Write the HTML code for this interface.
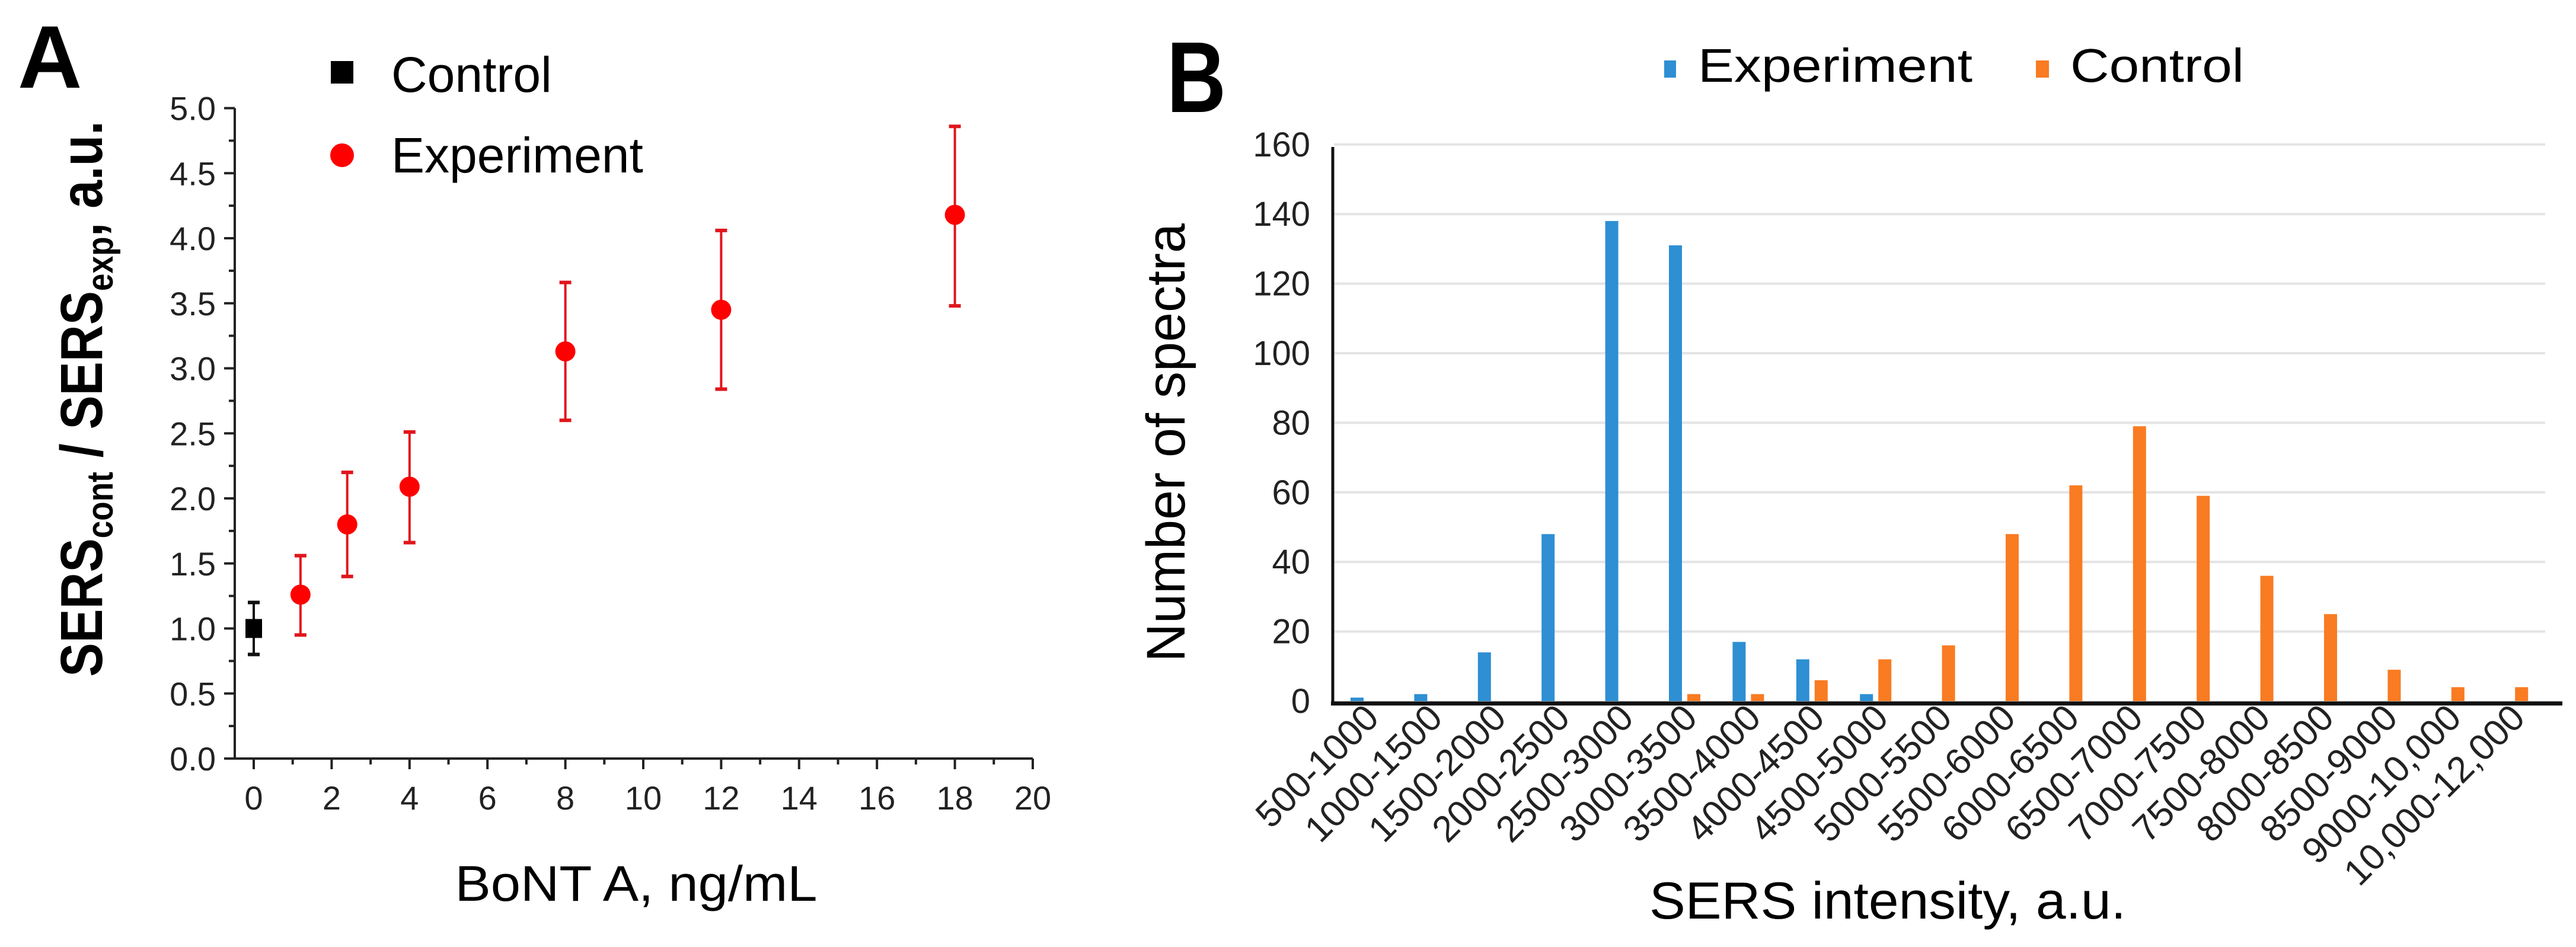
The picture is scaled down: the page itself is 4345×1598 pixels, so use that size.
<!DOCTYPE html>
<html><head><meta charset="utf-8"><style>html,body{margin:0;padding:0;background:#fff}svg{display:block}text{font-family:"Liberation Sans",sans-serif}</style></head>
<body>
<svg id="fig" width="4345" height="1598" viewBox="0 0 4345 1598" xmlns="http://www.w3.org/2000/svg">
<g id="pa">
<text x="30" y="148" font-size="150" font-weight="bold">A</text>
<rect x="558" y="103" width="38" height="38" fill="#000"/>
<text x="660" y="155" font-size="84">Control</text>
<circle cx="577" cy="262" r="20" fill="#f00"/>
<text x="660" y="291" font-size="84">Experiment</text>
<text transform="translate(172,673) rotate(-90)" text-anchor="middle" font-size="100" font-weight="bold" textLength="938" lengthAdjust="spacingAndGlyphs">SERS<tspan font-size="62" dy="18">cont</tspan><tspan dy="-18"> / SERS</tspan><tspan font-size="62" dy="18">exp</tspan><tspan dy="-18">, a.u.</tspan></text>
<text x="1073" y="1520" text-anchor="middle" font-size="84" textLength="611" lengthAdjust="spacingAndGlyphs">BoNT A, ng/mL</text>
</g>
<g id="pb">
<text x="1968" y="189" font-size="170" font-weight="bold" textLength="100" lengthAdjust="spacingAndGlyphs">B</text>
<rect x="2807" y="102" width="20" height="29" fill="#2e8fd3"/>
<text x="2864" y="138" font-size="80" textLength="463" lengthAdjust="spacingAndGlyphs">Experiment</text>
<rect x="3434" y="102" width="22" height="29" fill="#f97b22"/>
<text x="3492" y="138" font-size="80" textLength="293" lengthAdjust="spacingAndGlyphs">Control</text>
<text transform="translate(1998,747) rotate(-90)" text-anchor="middle" font-size="92" textLength="740" lengthAdjust="spacingAndGlyphs">Number of spectra</text>
<text x="3184" y="1550" text-anchor="middle" font-size="88" textLength="804" lengthAdjust="spacingAndGlyphs">SERS intensity, a.u.</text>
</g>
</svg>
<script>
// ---- Panel A data ----
const aCtrlX = [0];
const aCtrlY = [1.0];
const aCtrlLo = [0.8];
const aCtrlHi = [1.2];
const aExpX = [1.2, 2.4, 4, 8, 12, 18];
const aExpY = [1.26, 1.80, 2.09, 3.13, 3.45, 4.18];
const aExpLo = [0.95, 1.40, 1.66, 2.60, 2.84, 3.48];
const aExpHi = [1.56, 2.20, 2.51, 3.66, 4.06, 4.86];
const aYTicks = ["0.0","0.5","1.0","1.5","2.0","2.5","3.0","3.5","4.0","4.5","5.0"];
const aXTicks = ["0","2","4","6","8","10","12","14","16","18","20"];
// ---- Panel B data ----
const bCats = ["500-1000","1000-1500","1500-2000","2000-2500","2500-3000","3000-3500","3500-4000","4000-4500","4500-5000","5000-5500","5500-6000","6000-6500","6500-7000","7000-7500","7500-8000","8000-8500","8500-9000","9000-10,000","10,000-12,000"];
const bExp = [1,2,14,48,138,131,17,12,2,0,0,0,0,0,0,0,0,0,0];
const bCtrl = [0,0,0,0,0,2,2,6,12,16,48,62,79,59,36,25,9,4,4];
const bYTicks = ["0","20","40","60","80","100","120","140","160"];

const NS = "http://www.w3.org/2000/svg";
function mk(parent, tag, attrs){const e=document.createElementNS(NS,tag);for(const k in attrs)e.setAttribute(k,attrs[k]);parent.appendChild(e);return e;}

// Panel A
const pa = document.getElementById('pa');
const ax = v => 428 + v*65.7;
const ay = v => 1280 - v*219.5;
let e;
e = mk(pa,'line',{x1:396,y1:ay(0),x2:1742,y2:ay(0),stroke:'#222','stroke-width':4});


e = mk(pa,'line',{x1:396,y1:ay(0)+2,x2:396,y2:ay(5),stroke:'#222','stroke-width':4});


for(let i=0;i<aYTicks.length;i++){
  const v = parseFloat(aYTicks[i]);
  mk(pa,'line',{x1:378,y1:ay(v),x2:396,y2:ay(v),stroke:'#222','stroke-width':4});
  if(i<aYTicks.length-1) mk(pa,'line',{x1:386,y1:ay(v+0.25),x2:396,y2:ay(v+0.25),stroke:'#222','stroke-width':4});
  e = mk(pa,'text',{x:364,y:ay(v)+20,'text-anchor':'end','font-size':56,fill:'#222'});
  e.textContent = aYTicks[i];
  
  
}
for(let i=0;i<aXTicks.length;i++){
  const v = parseFloat(aXTicks[i]);
  mk(pa,'line',{x1:ax(v),y1:ay(0),x2:ax(v),y2:ay(0)+18,stroke:'#222','stroke-width':4});
  if(i<aXTicks.length-1) mk(pa,'line',{x1:ax(v+1),y1:ay(0),x2:ax(v+1),y2:ay(0)+10,stroke:'#222','stroke-width':4});
  e = mk(pa,'text',{x:ax(v),y:1366,'text-anchor':'middle','font-size':56,fill:'#222'});
  e.textContent = aXTicks[i];
  
  
}
function errbar(x,lo,hi,col,nm){
  const g = mk(pa,'g',{stroke:col,'stroke-width':4});
  
  
  mk(g,'line',{x1:ax(x),y1:ay(lo),x2:ax(x),y2:ay(hi)});
  mk(g,'line',{x1:ax(x)-10,y1:ay(lo),x2:ax(x)+10,y2:ay(lo),'stroke-width':6});
  mk(g,'line',{x1:ax(x)-10,y1:ay(hi),x2:ax(x)+10,y2:ay(hi),'stroke-width':6});
}
for(let i=0;i<aCtrlX.length;i++){
  errbar(aCtrlX[i],aCtrlLo[i],aCtrlHi[i],'#111','control-error-bar');
  e = mk(pa,'rect',{x:ax(aCtrlX[i])-14,y:ay(aCtrlY[i])-16,width:28,height:32,fill:'#000'});
  
  
}
for(let i=0;i<aExpX.length;i++){
  errbar(aExpX[i],aExpLo[i],aExpHi[i],'#e0161c','experiment-error-bar');
  e = mk(pa,'circle',{cx:ax(aExpX[i]),cy:ay(aExpY[i]),r:17,fill:'#f00'});
  
  
}

// Panel B
const pb = document.getElementById('pb');
const by = v => 1183 - v*5.87;
const bx = i => 2289 + i*107.4;
const bw = 22, off = 31;
for(let i=1;i<bYTicks.length;i++){
  e = mk(pb,'line',{x1:2250,y1:by(+bYTicks[i]),x2:4293,y2:by(+bYTicks[i]),stroke:'#e4e4e4','stroke-width':4});
  
  
}
for(let i=0;i<bYTicks.length;i++){
  e = mk(pb,'text',{x:2210,y:by(+bYTicks[i])+20,'text-anchor':'end','font-size':58,fill:'#222'});
  e.textContent = bYTicks[i];
  
  
}
for(let i=0;i<bCats.length;i++){
  if(bExp[i]>0){
    e = mk(pb,'rect',{x:bx(i)-bw/2,y:by(bExp[i]),width:bw,height:by(0)-by(bExp[i]),fill:'#2e8fd3'});
    
    
  }
  if(bCtrl[i]>0){
    e = mk(pb,'rect',{x:bx(i)+off-bw/2,y:by(bCtrl[i]),width:bw,height:by(0)-by(bCtrl[i]),fill:'#f97b22'});
    
    
  }
  e = mk(pb,'text',{transform:`translate(${bx(i)+40},1215) rotate(-45)`,'text-anchor':'end','font-size':62,fill:'#222'});
  e.textContent = bCats[i];
  
  
}
e = mk(pb,'line',{x1:2248,y1:248,x2:2248,y2:1190,stroke:'#111','stroke-width':5});


e = mk(pb,'line',{x1:2245,y1:1187,x2:4322,y2:1187,stroke:'#111','stroke-width':7});


</script>
</body></html>
